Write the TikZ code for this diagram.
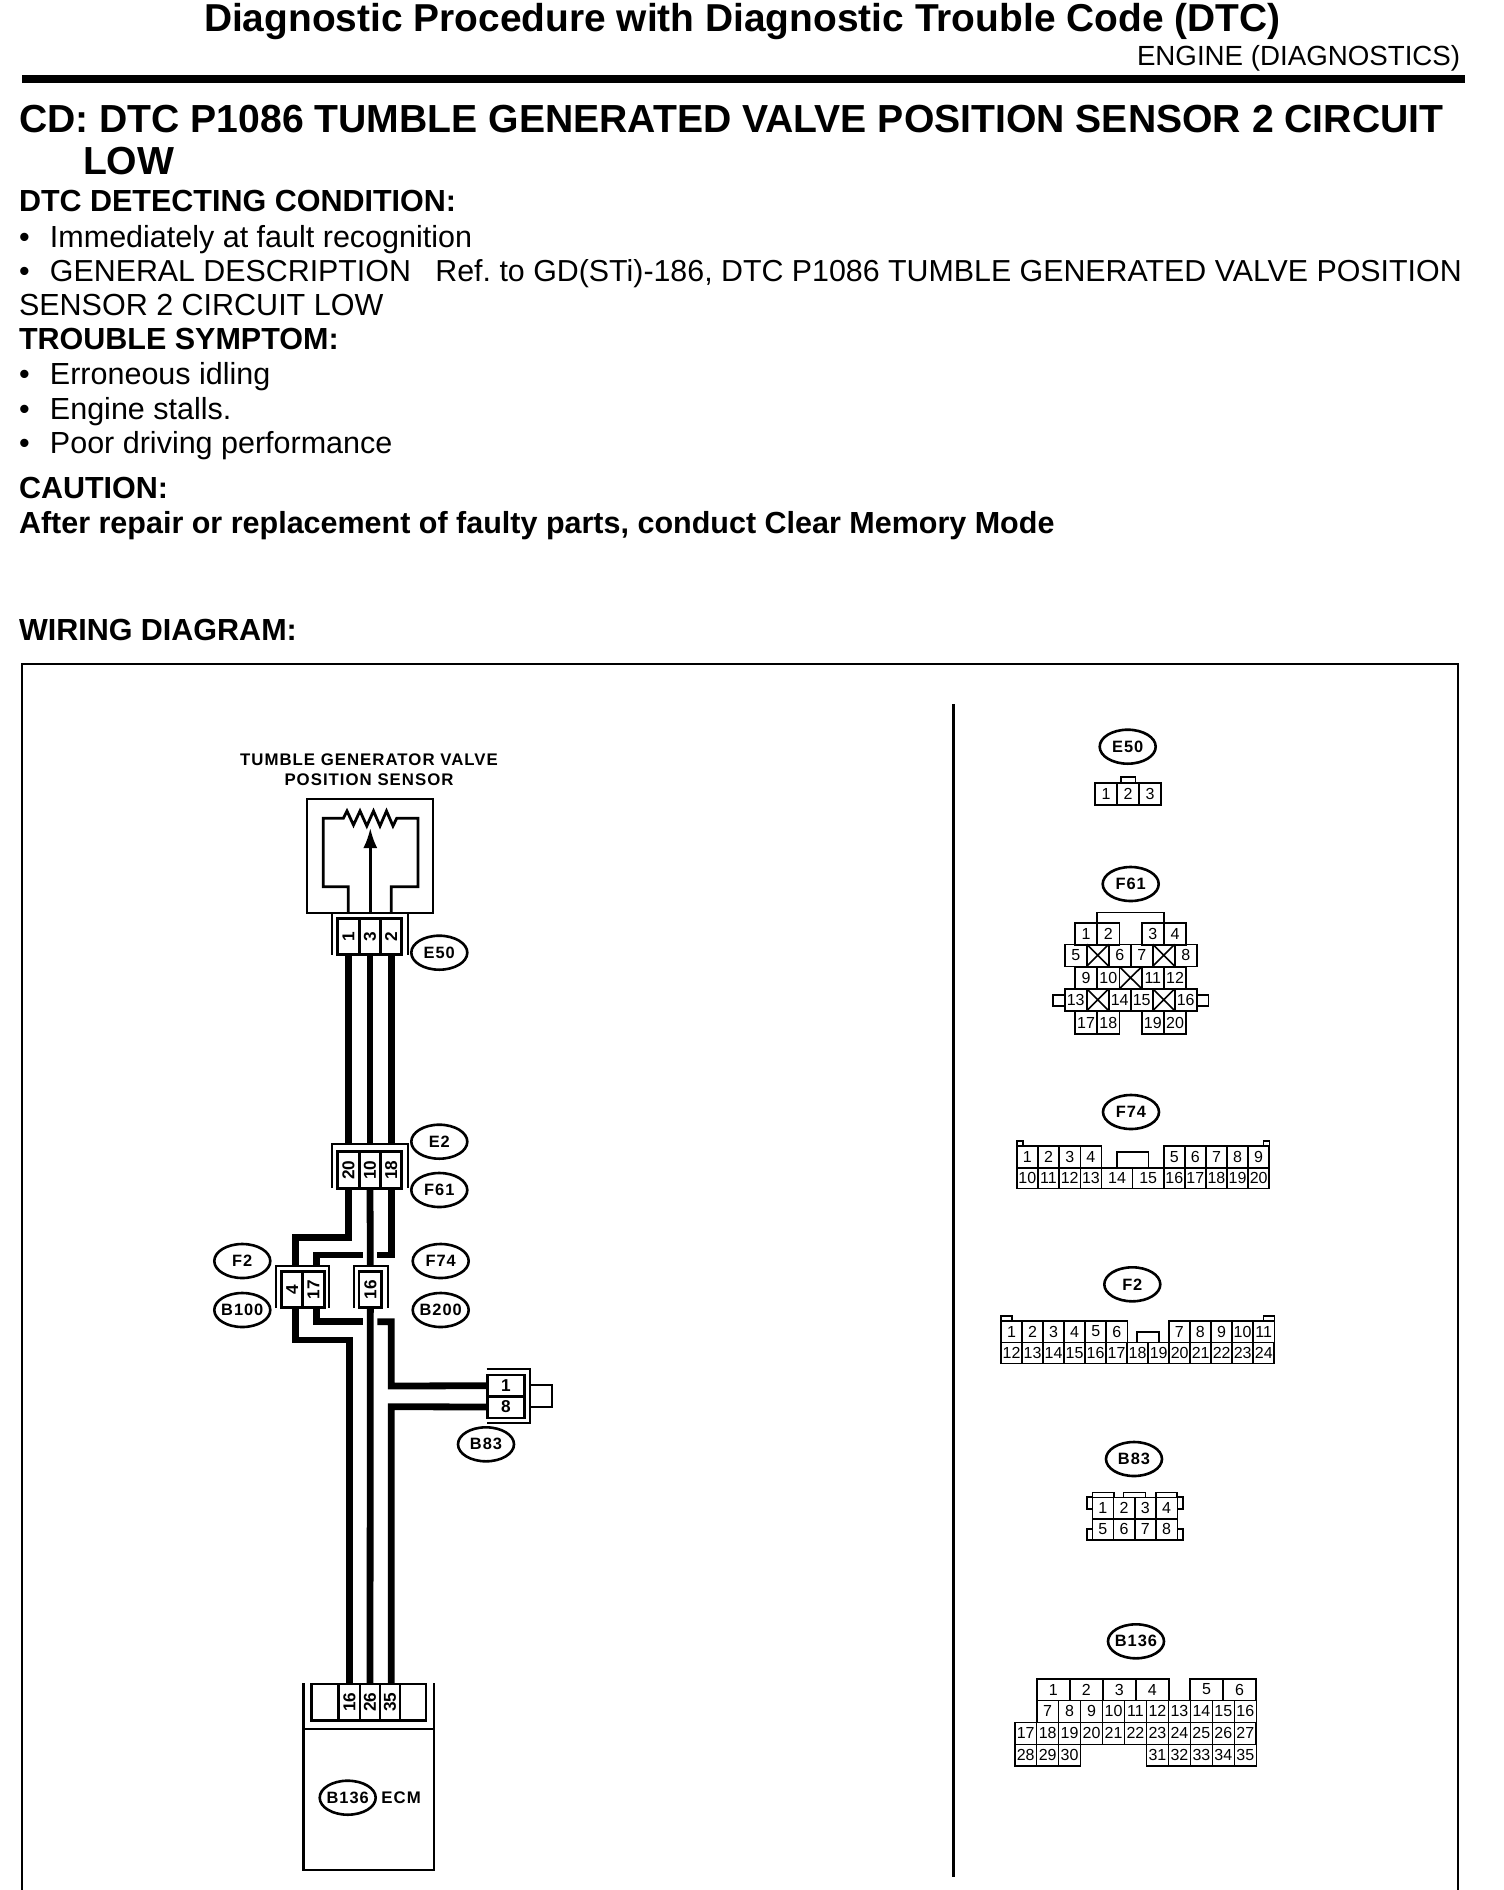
\documentclass[tikz,border=0pt]{standalone}
\usepackage{fontspec}
\setmainfont{Liberation Sans}
\newfontfamily\wirefont[LetterSpace=6]{Liberation Sans}
\usetikzlibrary{arrows.meta,positioning,shapes.geometric}
\tikzset{
  txt/.style={anchor=base west, inner sep=0pt, outer sep=0pt, font=\fontsize{15.25}{18}\selectfont},
  bhead/.style={txt, font=\fontsize{15.25}{18}\selectfont\bfseries},
  tag/.style={draw, ellipse, line width=1.3pt, minimum width=28pt, minimum height=17pt, inner sep=-1.5pt, font=\wirefont\bfseries\fontsize{8.2}{9}\selectfont},
  pincell/.style={draw, line width=.8pt, inner sep=0pt, outer sep=0pt, anchor=north west, font=\fontsize{8}{9}\selectfont},
  wirepin/.style={pincell, line width=1.3pt, font=\fontsize{8.6}{9}\selectfont\bfseries},
  wire/.style={line width=3.4pt},
  stub/.style={wire, shorten >=3pt},
  thinwire/.style={line width=1.4pt},
  shell/.style={line width=1.1pt},
  pintab/.style={line width=.8pt}
}
\newcommand{\pinrow}[6]{\foreach \n [count=\i from 0] in {#6} {
  \node[pincell, minimum width=#4*.5pt, minimum height=#5*.5pt] (#1-\n) at ({#2+\i*#4},#3) {\n};}}
\newcommand{\crosspin}[5]{\node[pincell, minimum width=#4*.5pt, minimum height=#5*.5pt] (#1) at (#2,#3) {};
  \draw[pintab] (#1.north west) -- (#1.south east) (#1.north east) -- (#1.south west);}
\newcommand{\sidepin}[7][]{\node[wirepin, minimum width=#5*.5pt, minimum height=#6*.5pt, #1] (#2) at (#3,#4) {\rotatebox{90}{#7}};}
\newcommand{\dotline}{\makebox[15.5pt][l]{•}}
\frenchspacing
\begin{document}
\begin{tikzpicture}[x=.5pt,y=-.5pt]
\useasboundingbox (0,0) rectangle (1504,1890);
\node[txt, font=\fontsize{19.45}{20}\selectfont\bfseries] (title) at (204,31) {Diagnostic Procedure with Diagnostic Trouble Code (DTC)};
\node[txt, font=\fontsize{13.85}{16}\selectfont] (section) at (1137,65) {ENGINE (DIAGNOSTICS)};
\fill (22,75) rectangle (1465,82.5);
\node[bhead, font=\fontsize{19.57}{22}\selectfont\bfseries] (cd) at (19,132) {CD: DTC P1086 TUMBLE GENERATED VALVE POSITION SENSOR 2 CIRCUIT};
\node[bhead, font=\fontsize{19.57}{22}\selectfont\bfseries] (low) at (83,174) {LOW};
\node[bhead] (cond) at (19,211) {DTC DETECTING CONDITION:};
\node[txt] (imm) at (19,247) {\dotline Immediately at fault recognition};
\node[txt, font=\fontsize{15.18}{18}\selectfont] (gen) at (19,281) {\dotline GENERAL DESCRIPTION\hspace{8pt} Ref. to GD(STi)-186, DTC P1086 TUMBLE GENERATED VALVE POSITION};
\node[txt] (gen2) at (19,315) {SENSOR 2 CIRCUIT LOW};
\node[bhead] (symp) at (19,349) {TROUBLE SYMPTOM:};
\node[txt] (err) at (19,384) {\dotline Erroneous idling};
\node[txt] (sta) at (19,419) {\dotline Engine stalls.};
\node[txt] (poor) at (19,453) {\dotline Poor driving performance};
\node[bhead] (caut) at (19,498) {CAUTION:};
\node[bhead] (after) at (19,533) {After repair or replacement of faulty parts, conduct Clear Memory Mode};
\node[bhead] (wd) at (19,640) {WIRING DIAGRAM:};
\draw[line width=.75pt] (22,1890) -- (22,664) -- (1458,664) -- (1458,1890);
\draw[line width=1.5pt] (953,704) -- (953,1877);

\node[inner sep=0pt, align=center, font=\wirefont\bfseries\fontsize{8.4}{10}\selectfont] (sensorlabel) at (369,770) {TUMBLE GENERATOR VALVE\\POSITION SENSOR};
\node[draw, line width=1.4pt, minimum width=63pt, minimum height=57pt, inner sep=0pt, outer sep=0pt, anchor=north west] (sensor) at (307,799) {};
\draw[thinwire] (348.3,912.7) -- (348.3,886.7) -- (323.3,886.7) -- (323.3,818.3) -- (343.3,818.3)
  -- (347,811) -- (353.5,825) -- (360,811) -- (366.8,826) -- (373.5,811) -- (380,826) -- (386.5,811) -- (393,826) -- (396.7,818.3)
  -- (418,818.3) -- (418,886.7) -- (391.3,886.7) -- (391.3,912.7);
\draw[thinwire, -{Latex[length=10pt,width=7pt]}] (370.3,912.7) -- (370.3,828);

\draw[shell] (332.3,913) -- (332.3,955) (407.7,913) -- (407.7,955);
\sidepin{we50-1}{337.7}{918.3}{21.6}{36}{1}
\sidepin{we50-3}{359.3}{918.3}{21.4}{36}{3}
\sidepin{we50-2}{380.7}{918.3}{21}{36}{2}
\node[tag] (te50) at (439.3,952.7) {E50};
\draw[shell] (332.3,1188) -- (332.3,1144) -- (407.7,1144) -- (407.7,1188);
\sidepin{wf61-20}{337.7}{1151.7}{21.6}{36.6}{20}
\sidepin{wf61-10}{359.3}{1151.7}{21.4}{36.6}{10}
\sidepin{wf61-18}{380.7}{1151.7}{21}{36.6}{18}
\node[tag] (te2) at (439.3,1141.7) {E2};
\node[tag] (tf61) at (439.3,1190) {F61};

\draw[shell] (275.7,1308) -- (275.7,1265.7) -- (329,1265.7) -- (329,1308);
\sidepin{wf2-4}{281.7}{1271.7}{21}{36}{4}
\sidepin{wf2-17}{302.7}{1271.7}{21.6}{36}{17}
\draw[shell] (353.7,1308) -- (353.7,1265.7) -- (387.7,1265.7) -- (387.7,1308);
\sidepin{wf74-16}{359}{1271.7}{22.7}{36}{16}
\node[tag] (tf2) at (242.3,1261) {F2};
\node[tag] (tb100) at (242.3,1310) {B100};
\node[tag] (tf74) at (440.7,1261) {F74};
\node[tag] (tb200) at (440.7,1310) {B200};

\draw[shell] (486.7,1369.3) -- (530,1369.3) -- (530,1423.3) -- (486.7,1423.3);
\node[wirepin, minimum width=18.3pt, minimum height=10.7pt] (wb83-1) at (487.7,1375) {1};
\node[wirepin, minimum width=18.3pt, minimum height=11pt] (wb83-8) at (487.7,1396) {8};
\draw[shell] (530,1385) -- (552,1385) -- (552,1406.7) -- (530,1406.7);
\node[tag] (tb83) at (486,1444.3) {B83};

\node[wirepin, minimum width=13.7pt, minimum height=18.3pt] (ecm-a) at (311.3,1684) {};
\sidepin{ecm-16}{338.7}{1684}{21.3}{36.7}{16}
\sidepin{ecm-26}{360}{1684}{20}{36.7}{26}
\sidepin{ecm-35}{380}{1684}{20}{36.7}{35}
\node[wirepin, minimum width=13pt, minimum height=18.3pt] (ecm-b) at (400,1684) {};
\draw[line width=1.3pt] (303.3,1683) -- (303.3,1870) -- (434,1870) -- (434,1683) (303.3,1729) -- (434,1729);
\node[tag] (tb136) at (347.7,1797.7) {B136};
\node[inner sep=0pt, right=2pt of tb136, font=\wirefont\bfseries\fontsize{8.4}{9}\selectfont] (ecmname) {ECM};

\draw[stub, shorten >=3.85pt] (we50-1.south) -- (wf61-20.north);
\draw[stub, shorten >=3.85pt] (we50-3.south) -- (wf61-10.north);
\draw[stub, shorten >=3.85pt] (we50-2.south) -- (wf61-18.north);
\coordinate (k1) at (295.3,1237.3);
\coordinate (k2) at (316.7,1255);
\coordinate (k3) at (316.7,1321.7);
\coordinate (k4) at (295.3,1340);
\coordinate (gapl) at (362.7,1255);
\coordinate (gapr) at (377.3,1255);
\coordinate (gaplb) at (362.7,1321.7);
\coordinate (gaprb) at (377.3,1321.7);
\coordinate (k5) at (391.3,1386);
\coordinate (k6) at (391.3,1406.7);
\draw[stub] (wf61-20.south) |- (k1) -- (k1 |- wf2-4.north);
\draw[stub] (wf61-10.south) -- (wf74-16.north);
\draw[wire] (wf61-18.south) |- (gapr);
\draw[stub] (gapl) -- (k2) -- (k2 |- wf2-17.north);
\draw[wire] (k3 |- wf2-17.south) -- (k3) -- (gaplb);
\draw[wire] (gaprb) -| (k5) -- (wb83-1.west);
\draw[wire] (k4 |- wf2-4.south) -- (k4) -| (ecm-16.north);
\draw[wire] (wf74-16.south) -- (ecm-26.north);
\draw[wire] (wb83-8.west) -- (k6) -- (k6 |- ecm-35.north);

\node[tag] (re50) at (1127.7,746.7) {E50};
\draw[pintab] (1120.7,782.7) -- (1120.7,776.7) -- (1135.3,776.7) -- (1135.3,782.7);
\pinrow{e50}{1095}{782.7}{22}{22.3}{1,2,3}

\node[tag] (rf61) at (1130.7,884) {F61};
\draw[pintab] (1097,922.7) -- (1097,912.3) -- (1164,912.3) -- (1164,922.7);
\pinrow{f61}{1075}{922.7}{22.2}{22}{1,2}
\pinrow{f61}{1141.7}{922.7}{22.2}{22}{3,4}
\pinrow{f61}{1064.7}{944.3}{22}{22}{5}
\crosspin{f61x1}{1086.7}{944.3}{22}{22}
\pinrow{f61}{1108.7}{944.3}{22}{22}{6,7}
\crosspin{f61x2}{1152.7}{944.3}{22}{22}
\pinrow{f61}{1174.7}{944.3}{22}{22}{8}
\pinrow{f61}{1075}{966.7}{22.2}{22}{9,10}
\crosspin{f61x3}{1119.4}{966.7}{22.3}{22}
\pinrow{f61}{1141.7}{966.7}{22.2}{22}{11,12}
\pinrow{f61}{1064.7}{988.7}{22}{22}{13}
\crosspin{f61x4}{1086.7}{988.7}{22}{22}
\pinrow{f61}{1108.7}{988.7}{22}{22}{14,15}
\crosspin{f61x5}{1152.7}{988.7}{22}{22}
\pinrow{f61}{1174.7}{988.7}{22}{22}{16}
\pinrow{f61}{1075}{1011}{22.2}{23}{17,18}
\pinrow{f61}{1141.7}{1011}{22.2}{23}{19,20}
\draw[pintab] (1064.7,995) -- (1052.7,995) -- (1052.7,1006) -- (1064.7,1006);
\draw[pintab] (1196.7,995) -- (1208.3,995) -- (1208.3,1006) -- (1196.7,1006);

\node[tag] (rf74) at (1131,1112) {F74};
\draw[pintab] (1016.7,1146) -- (1016.7,1140.7) -- (1022.7,1140.7) -- (1022.7,1146);
\draw[pintab] (1263.3,1146) -- (1263.3,1140.7) -- (1269.3,1140.7) -- (1269.3,1146);
\draw[pintab] (1116.7,1167.7) -- (1116.7,1151.7) -- (1148.3,1151.7) -- (1148.3,1167.7);
\pinrow{f74}{1016.7}{1146}{21.2}{21.7}{1,2,3,4}
\pinrow{f74}{1163.7}{1146}{21.1}{21.7}{5,6,7,8,9}
\pinrow{f74}{1016.7}{1167.7}{21.2}{20.6}{10,11,12,13}
\pinrow{f74}{1101.5}{1167.7}{31.1}{20.6}{14,15}
\pinrow{f74}{1163.7}{1167.7}{21.1}{20.6}{16,17,18,19,20}

\node[tag] (rf2) at (1132.3,1284.3) {F2};
\draw[pintab] (1001,1320.7) -- (1001,1315.7) -- (1011.7,1315.7) -- (1011.7,1320.7);
\draw[pintab] (1263.3,1320.7) -- (1263.3,1315.7) -- (1274.3,1315.7) -- (1274.3,1320.7);
\draw[pintab] (1136.7,1342.3) -- (1136.7,1331.7) -- (1158.7,1331.7) -- (1158.7,1342.3);
\pinrow{f2}{1001}{1320.7}{21.05}{21.6}{1,2,3,4,5,6}
\pinrow{f2}{1168.7}{1320.7}{21.12}{21.6}{7,8,9,10,11}
\pinrow{f2}{1001}{1342.3}{21.02}{21}{12,13,14,15,16,17,18,19,20,21,22,23,24}

\node[tag] (rb83) at (1134,1459) {B83};
\draw[pintab] (1092.3,1497.3) -- (1092.3,1492.3) -- (1114,1492.3) -- (1114,1497.3);
\draw[pintab] (1123.3,1497.3) -- (1123.3,1492.3) -- (1145.3,1492.3) -- (1145.3,1497.3);
\draw[pintab] (1156,1497.3) -- (1156,1492.3) -- (1176.7,1492.3) -- (1176.7,1497.3);
\foreach \y in {1497.3,1528.7} {
  \draw[shell] (1092.3,\y) -- (1086.7,\y) -- (1086.7,\y+11.3) -- (1092.3,\y+11.3);
  \draw[shell] (1177.3,\y) -- (1182.7,\y) -- (1182.7,\y+11.3) -- (1177.3,\y+11.3);
}
\pinrow{b83}{1092.3}{1497.3}{21.25}{21.4}{1,2,3,4}
\pinrow{b83}{1092.3}{1518.7}{21.25}{21.3}{5,6,7,8}

\node[tag] (rb136) at (1136,1641.3) {B136};
\pinrow{b136}{1036.7}{1678.7}{33}{21.6}{1,2,3,4}
\pinrow{b136}{1190}{1678.7}{33}{21.6}{5,6}
\pinrow{b136}{1036.7}{1700.3}{21.96}{22}{7,8,9,10,11,12,13,14,15,16}
\pinrow{b136}{1014.7}{1722.3}{21.96}{22}{17,18,19,20,21,22,23,24,25,26,27}
\pinrow{b136}{1014.7}{1744.3}{21.96}{21.7}{28,29,30}
\pinrow{b136}{1146.5}{1744.3}{21.96}{21.7}{31,32,33,34,35}
\end{tikzpicture}
\end{document}
